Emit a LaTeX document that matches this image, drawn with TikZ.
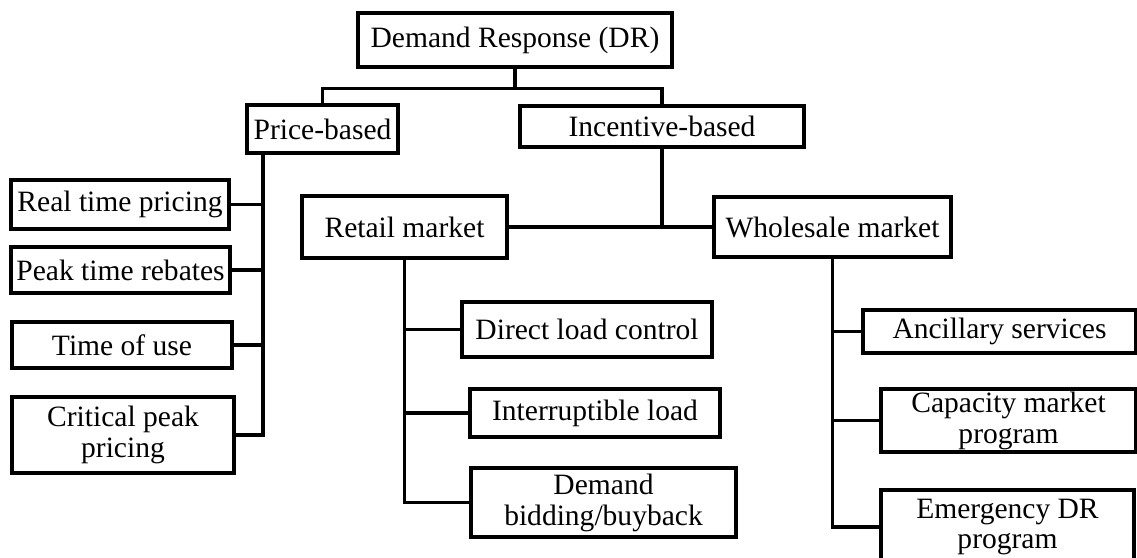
\documentclass[tikz,border=0pt]{standalone}
\usepackage{fontspec}
\setmainfont{Liberation Serif}
\begin{document}
\begin{tikzpicture}[x=0.025cm, y=-0.025cm,
    blk/.style={draw, line width=0.085cm, inner sep=1pt, align=center,
        font=\fontsize{21pt}{22pt}\selectfont},
    bx/.style 2 args={blk, minimum width=#1cm, minimum height=#2cm},
    lnk/.style={line width=0.085cm}]
        \useasboundingbox (0,0) rectangle (1137,558);
        \clip (0,0) rectangle (1137,558);

        % top levels
        \node[bx={7.85}{1.35}] (root) at (515,40) {Demand Response (DR)};
        \node[bx={3.775}{1.2}] (price) at (322.5,129) {Price-based};
        \node[bx={7.1}{1.025}] (incent) at (662,126.5) {Incentive-based};

        % price-based programs
        \node[bx={5.45}{1.225}] (rtp) at (120,204.5) {Real time pricing};
        \node[bx={5.475}{1.15}] (ptr) at (120.5,270) {Peak time rebates};
        \node[bx={5.5}{1.15}] (tou) at (122,345) {Time of use};
        \node[bx={5.55}{1.9}] (cpp) at (123,435) {Critical peak\\pricing};

        % markets
        \node[bx={5.125}{1.55}] (retail) at (404.5,227) {Retail market};
        \node[bx={5.925}{1.5}] (whole) at (832.5,227) {Wholesale market};

        % retail programs
        \node[bx={6.25}{1.375}] (dlc) at (587,329.5) {Direct load control};
        \node[bx={6.25}{1.2}] (il) at (595,413) {Interruptible load};
        \node[bx={6.625}{1.725}] (dbb) at (603.5,502.5) {Demand\\bidding/buyback};

        % wholesale programs
        \node[bx={6.825}{1.075}] (anc) at (999.5,331.5) {Ancillary services};
        \node[bx={6.375}{1.575}] (cap) at (1008.5,420.5) {Capacity market\\program};
        \node[bx={6.325}{1.85}] (emer) at (1007.5,527) {Emergency DR\\program};

        % draw connectors
        \draw[lnk] (root.south) -- ++(0,20) -| (price.north);
        \draw[lnk] (root.south) -- ++(0,20) -| (incent.north);

        \coordinate (pbus) at (263,0);
        \draw[lnk] (pbus |- price.south) |- (cpp.east);
        \foreach \n in {rtp,ptr,tou}
            \draw[lnk] (\n.east) -- (\n.east -| pbus);

        \draw[lnk] (retail.east) -- (whole.west);
        \draw[lnk] (incent.south) -- (incent.south |- whole.west);

        \draw[lnk] (retail.south) |- (dbb.west);
        \foreach \n in {dlc,il}
            \draw[lnk] (\n.west) -- (\n.west -| retail.south);

        \draw[lnk] (whole.south) |- (emer.west);
        \foreach \n in {anc,cap}
            \draw[lnk] (\n.west) -- (\n.west -| whole.south);

    \end{tikzpicture}
\end{document}
